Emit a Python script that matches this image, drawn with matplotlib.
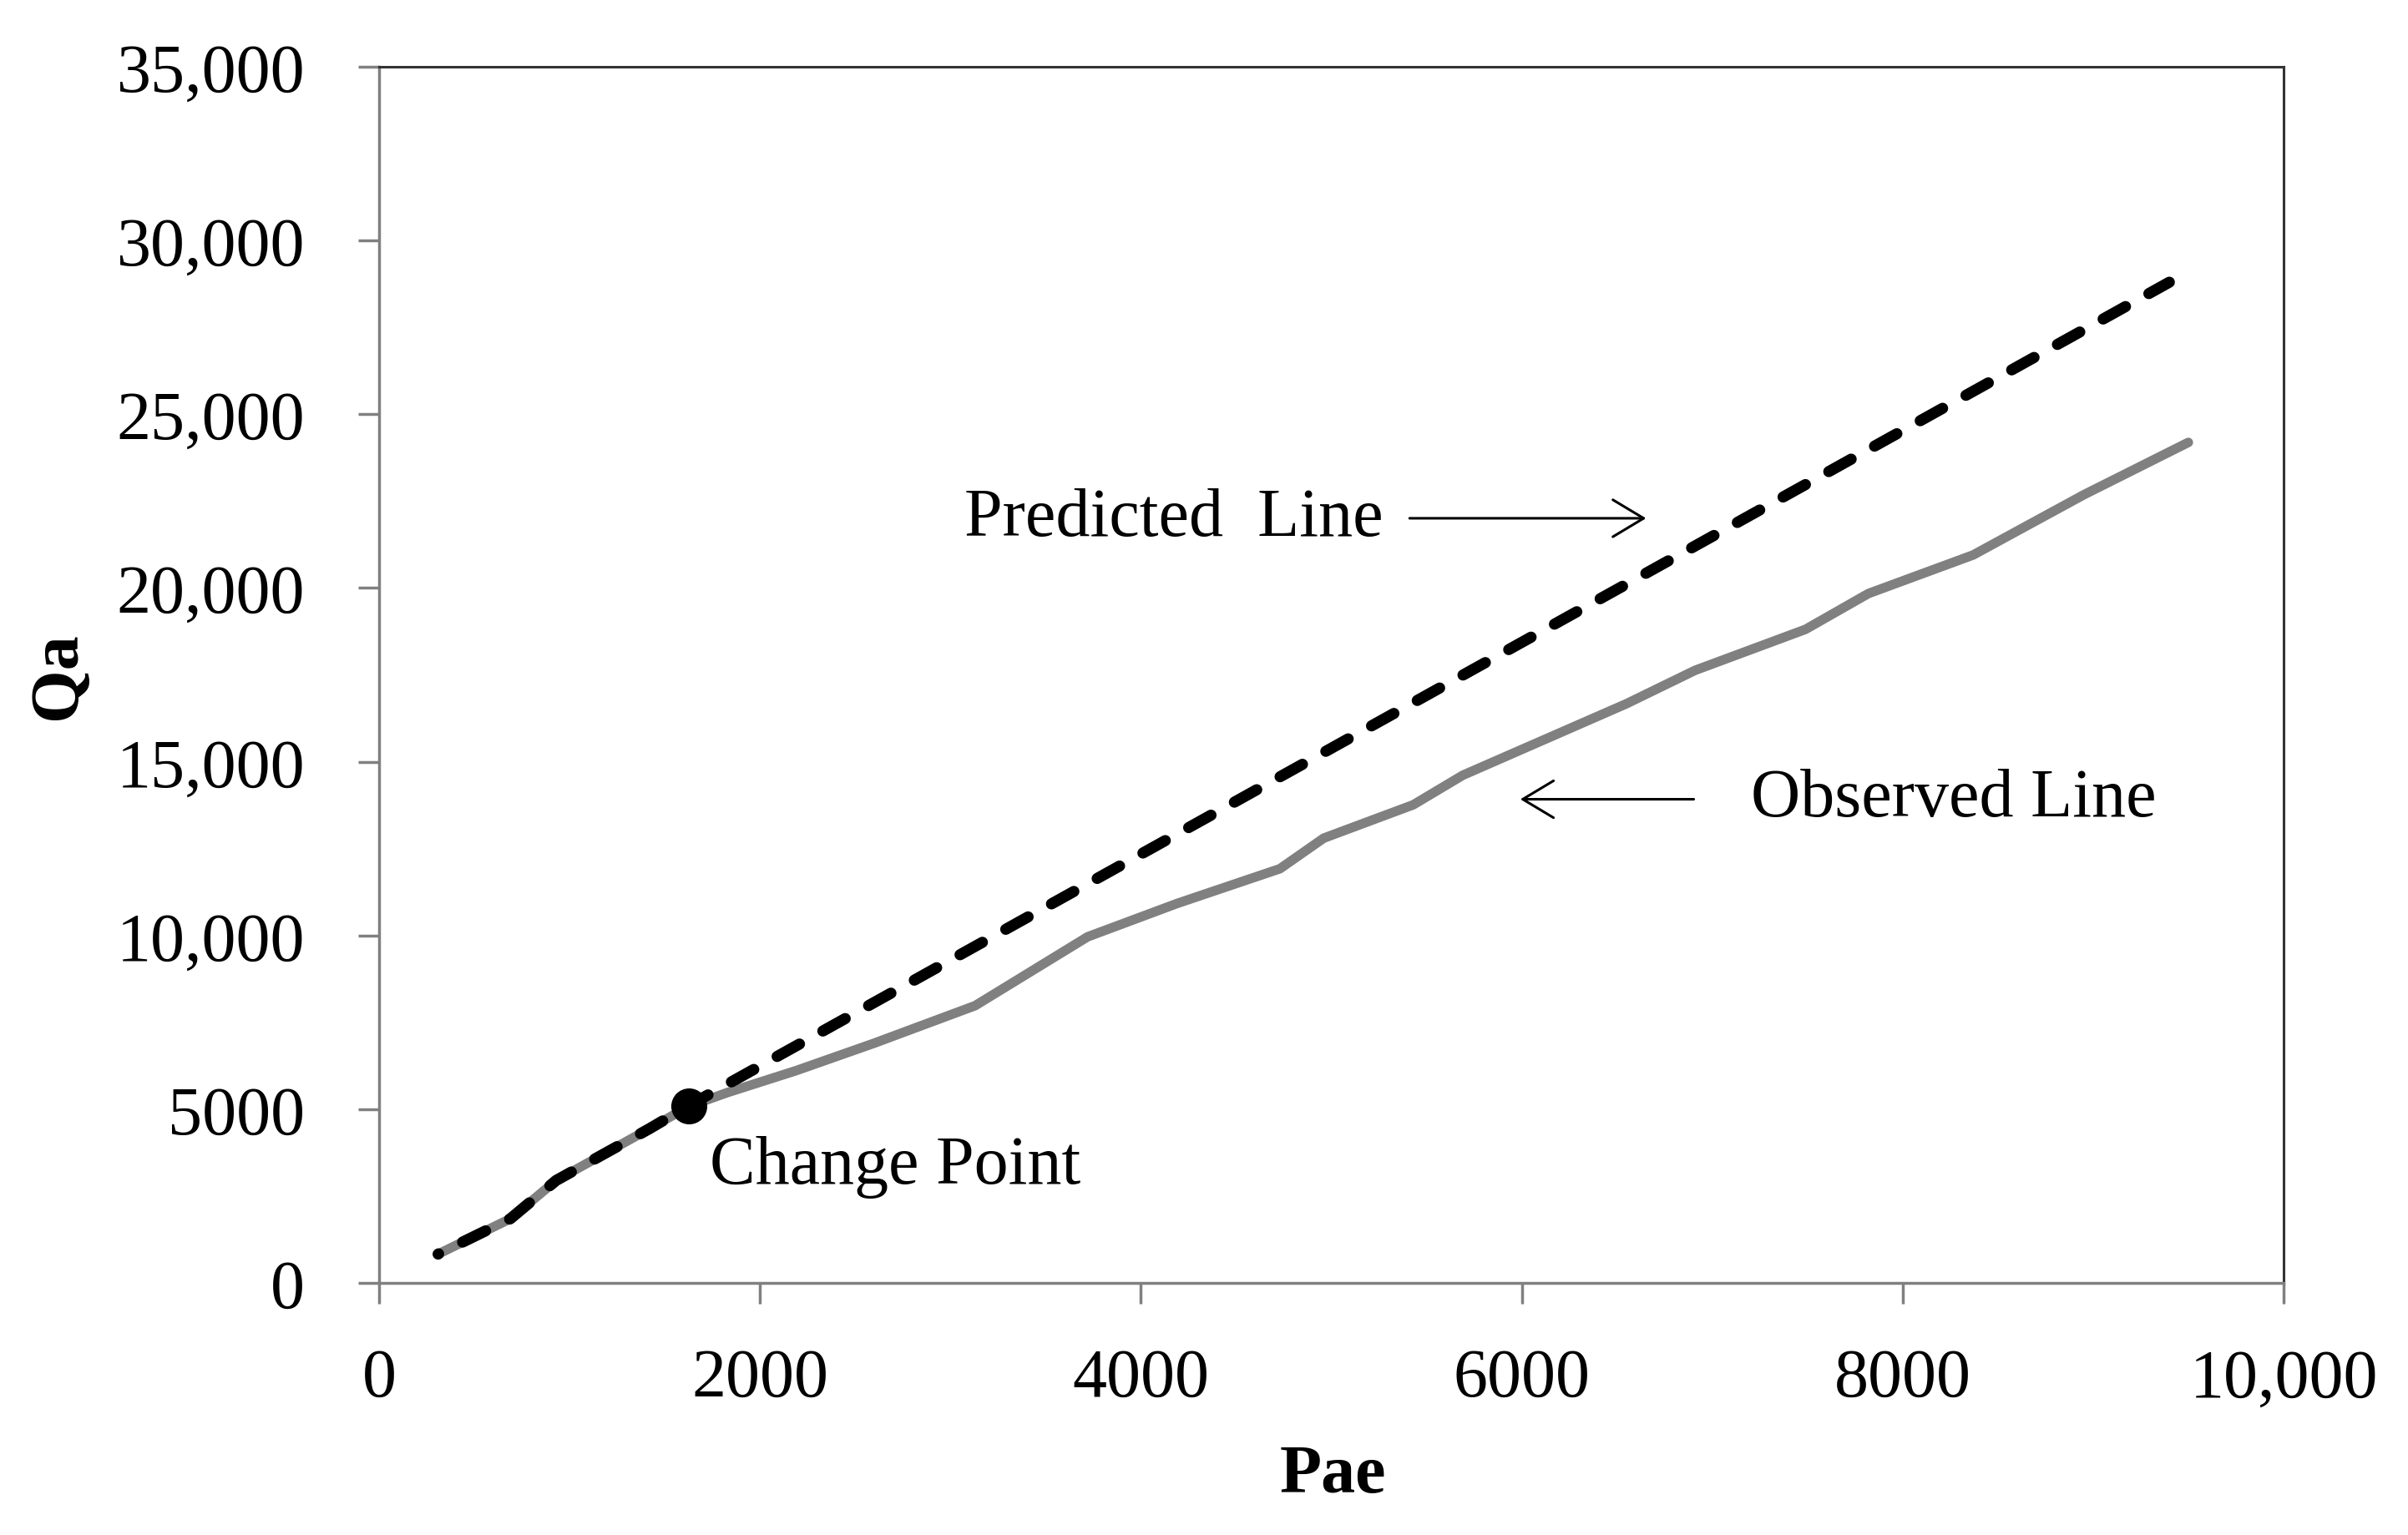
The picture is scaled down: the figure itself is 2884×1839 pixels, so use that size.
import matplotlib
matplotlib.use("Agg")
import matplotlib.pyplot as plt

plt.rcParams['font.family'] = ['Liberation Serif', 'DejaVu Serif']

# ---- data ----
obs_x = [310, 690, 930, 1420, 1625, 1830, 2190, 2600, 3130, 3720, 4190, 4730,
         4960, 5430, 5690, 6550, 6910, 7490, 7820, 8370, 8950, 9500]
obs_y = [830, 1850, 2950, 4440, 5080, 5480, 6110, 6900, 7980, 9960, 10920, 11920,
         12800, 13760, 14610, 16670, 17630, 18810, 19840, 20950, 22680, 24190]
pred_x = [310, 690, 930, 1420, 1625, 9400]
pred_y = [830, 1850, 2950, 4440, 5100, 28800]
change_x = [1625]
change_y = [5100]

x_ticks = [0, 2000, 4000, 6000, 8000, 10000]
x_tick_labels = ["0", "2000", "4000", "6000", "8000", "10,000"]
y_ticks = [0, 5000, 10000, 15000, 20000, 25000, 30000, 35000]
y_tick_labels = ["0", "5000", "10,000", "15,000", "20,000", "25,000", "30,000", "35,000"]

FS = 59

fig = plt.figure(figsize=(28.84, 18.40), dpi=100)
ax = fig.add_axes([454/2884, (1840-1538)/1840, 2281/2884, 1457/1840])

ax.plot(obs_x, obs_y, color='#808080', lw=8.2, solid_capstyle='round',
        solid_joinstyle='round', zorder=2)
ax.plot(pred_x, pred_y, color='black', lw=9.6, linestyle=(2.25, (2.3, 2.4)),
        dash_capstyle='round', zorder=3)
ax.plot(change_x, change_y, 'o', color='black', ms=30, zorder=4)

ax.set_xlim(0, 10000)
ax.set_ylim(0, 35000)
ax.set_xticks(x_ticks)
ax.set_xticklabels(x_tick_labels)
ax.set_yticks(y_ticks)
ax.set_yticklabels(y_tick_labels)

for s in ['left', 'bottom']:
    ax.spines[s].set_color('#808080')
    ax.spines[s].set_linewidth(2.5)
for s in ['top', 'right']:
    ax.spines[s].set_color('#333333')
    ax.spines[s].set_linewidth(2.2)

ax.tick_params(axis='both', which='major', direction='out', length=18, width=2.5,
               color='#808080', labelsize=FS, labelcolor='black')
ax.tick_params(axis='y', pad=46)
ax.tick_params(axis='x', pad=38)

ax.text(-0.168, 0.5, "Qa", transform=ax.transAxes, rotation=90, ha='center',
        va='center', fontsize=FS, fontweight='bold')
ax.text(0.501, -0.1585, "Pae", transform=ax.transAxes, ha='center',
        va='center', fontsize=FS, fontweight='bold')

# annotations
ax.text(3073, 22006, "Predicted  Line", ha='left', va='center', fontsize=FS)
ax.annotate('', xy=(6653, 22006), xytext=(5411, 22006),
            arrowprops=dict(arrowstyle='->,head_length=0.45,head_width=0.27',
                            lw=2.2, color='black', shrinkA=0, shrinkB=0,
                            mutation_scale=FS))
ax.text(7202, 13920, "Observed Line", ha='left', va='center', fontsize=FS)
ax.annotate('', xy=(5992, 13920), xytext=(6903, 13920),
            arrowprops=dict(arrowstyle='->,head_length=0.45,head_width=0.27',
                            lw=2.2, color='black', shrinkA=0, shrinkB=0,
                            mutation_scale=FS))
ax.text(1734, 3358, "Change Point", ha='left', va='center', fontsize=FS)

fig.savefig("out.png", dpi=100, facecolor='white')
